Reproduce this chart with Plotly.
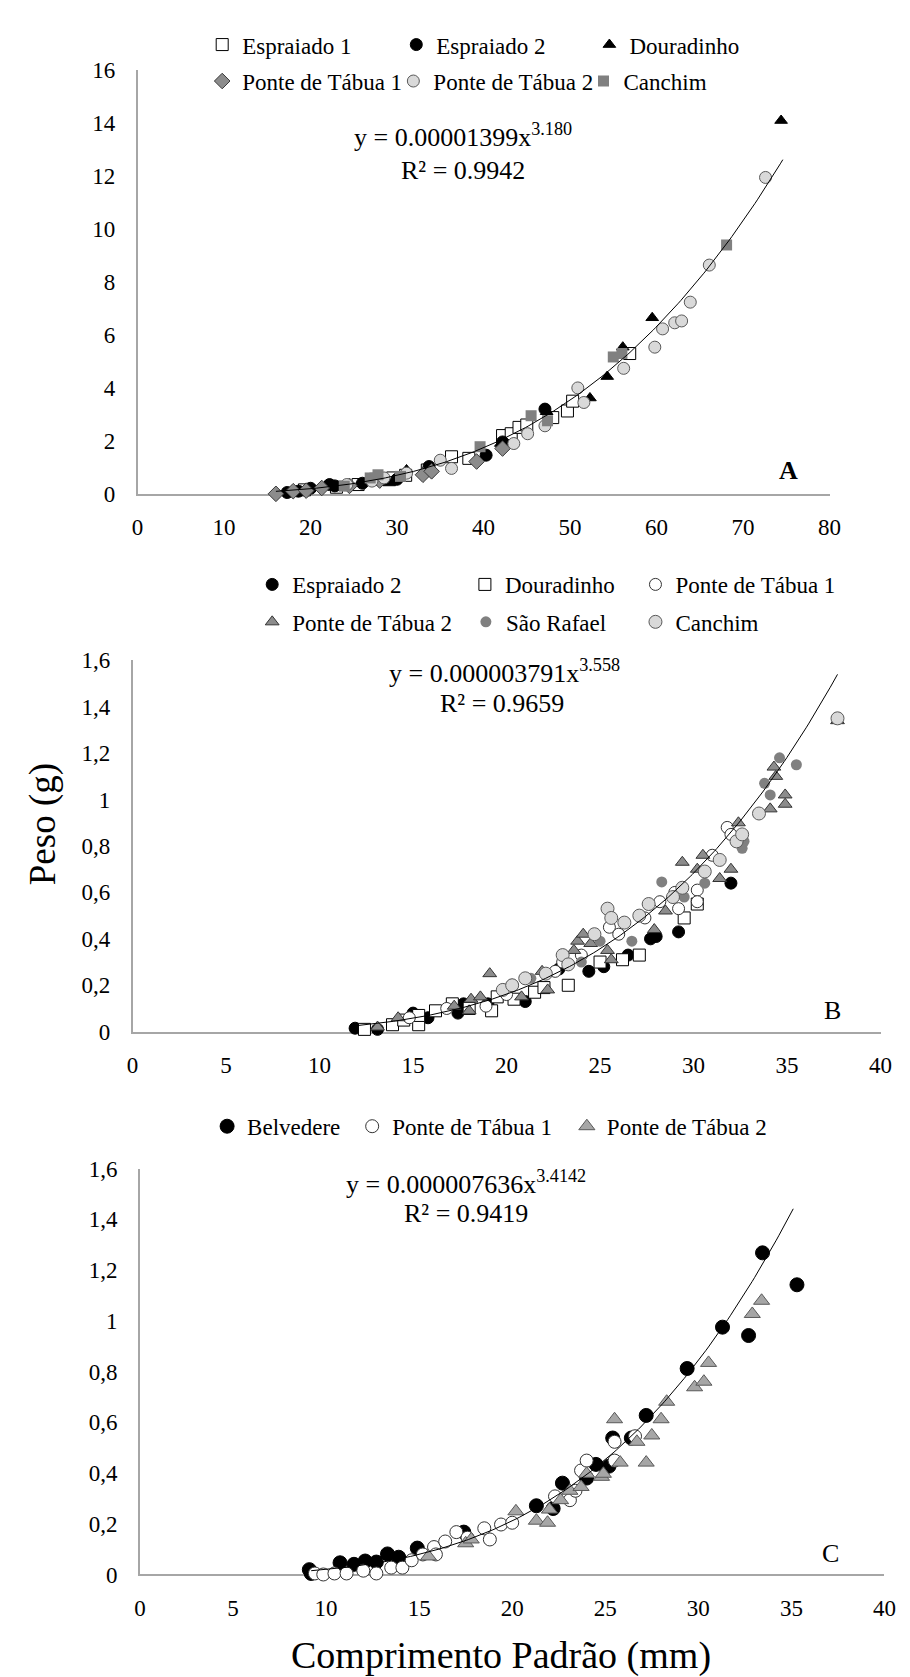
import numpy as np
import plotly.graph_objects as go

FONT = "Liberation Serif"
W, H = 910, 1677

# ---------------- Panel A data (Comprimento x Peso) ----------------
A_esp1_x = [19.3, 23.0, 25.5, 27.5, 29.5, 31.0, 33.5, 36.3, 38.3, 42.2, 43.2, 44.1, 45.0, 48.0, 49.7, 50.3, 56.9]
A_esp1_y = [0.15, 0.25, 0.35, 0.55, 0.60, 0.70, 0.90, 1.40, 1.34, 2.20, 2.27, 2.51, 2.60, 2.88, 3.13, 3.50, 5.30]
A_esp2_x = [17.3, 18.6, 20.0, 22.2, 22.8, 26.0, 30.0, 33.7, 40.3, 42.2, 47.1]
A_esp2_y = [0.05, 0.10, 0.21, 0.35, 0.30, 0.40, 0.55, 1.03, 1.46, 1.96, 3.20]
A_dour_x = [21.9, 29.1, 31.1, 42.0, 47.3, 52.3, 54.3, 56.1, 59.5, 74.4]
A_dour_y = [0.30, 0.41, 0.90, 1.90, 3.10, 3.62, 4.43, 5.54, 6.65, 14.1]
A_pt1_x = [16.0, 18.0, 19.5, 21.3, 24.5, 28.0, 33.0, 34.0, 39.2, 42.2]
A_pt1_y = [0.00, 0.10, 0.12, 0.22, 0.30, 0.50, 0.72, 0.85, 1.22, 1.71]
A_pt2_x = [24.2, 27.1, 28.5, 31.1, 35.0, 36.3, 43.5, 45.1, 47.1, 50.9, 51.6, 56.2, 59.8, 60.7, 62.1, 62.9, 63.9, 66.1, 72.6]
A_pt2_y = [0.35, 0.48, 0.60, 0.78, 1.27, 0.96, 1.90, 2.27, 2.57, 4.00, 3.45, 4.74, 5.54, 6.23, 6.46, 6.53, 7.24, 8.64, 11.95]
A_can_x = [23.9, 26.9, 27.8, 30.4, 39.6, 45.5, 47.4, 55.0, 56.0, 68.1]
A_can_y = [0.29, 0.60, 0.72, 0.66, 1.78, 2.95, 2.76, 5.17, 5.30, 9.40]

# ---------------- Panel B data ----------------
B_esp2_x = [11.9, 13.1, 15.0, 15.8, 17.4, 17.7, 19.0, 20.3, 21.0, 22.8, 24.4, 25.2, 26.5, 27.7, 28.0, 29.2, 32.0]
B_esp2_y = [0.015, 0.01, 0.08, 0.06, 0.08, 0.12, 0.12, 0.20, 0.13, 0.27, 0.26, 0.28, 0.33, 0.40, 0.41, 0.43, 0.64]
B_dour_x = [12.4, 13.9, 14.5, 15.3, 15.3, 16.2, 17.1, 18.0, 19.2, 19.5, 20.4, 21.5, 22.0, 23.3, 25.0, 26.2, 27.1, 29.5, 30.2]
B_dour_y = [0.01, 0.03, 0.05, 0.03, 0.07, 0.09, 0.12, 0.10, 0.09, 0.15, 0.14, 0.17, 0.19, 0.20, 0.30, 0.31, 0.33, 0.49, 0.55]
B_pt1_x = [14.8, 16.8, 18.9, 20.0, 22.6, 23.0, 24.0, 25.5, 26.0, 27.4, 28.2, 29.0, 29.2, 30.2, 30.2, 31.0, 31.8, 32.0]
B_pt1_y = [0.06, 0.10, 0.11, 0.16, 0.26, 0.30, 0.33, 0.45, 0.42, 0.49, 0.56, 0.60, 0.53, 0.61, 0.56, 0.76, 0.88, 0.85]
B_pt2_x = [13.1, 14.2, 17.2, 18.0, 18.1, 18.6, 19.1, 20.8, 21.9, 22.2, 23.6, 23.8, 24.1, 24.5, 25.4, 25.6, 27.9, 28.5,
           29.4, 30.2, 30.5, 31.4, 32.0, 32.4, 34.1, 34.3, 34.4, 34.9, 34.9, 37.7]
B_pt2_y = [0.02, 0.06, 0.11, 0.09, 0.14, 0.15, 0.25, 0.15, 0.26, 0.18, 0.35, 0.39, 0.42, 0.38, 0.35, 0.31, 0.44, 0.52,
           0.73, 0.70, 0.76, 0.66, 0.70, 0.90, 0.96, 1.14, 1.10, 1.02, 0.98, 1.34]
B_sr_x = [21.3, 24.0, 25.0, 26.7, 28.3, 29.5, 30.6, 32.6, 32.7, 33.8, 34.1, 34.6, 35.5]
B_sr_y = [0.23, 0.30, 0.39, 0.39, 0.645, 0.58, 0.64, 0.79, 0.82, 1.07, 1.02, 1.18, 1.15]
B_can_x = [19.8, 20.3, 21.0, 22.1, 23.0, 23.3, 24.7, 25.4, 25.6, 26.3, 27.1, 27.6, 28.9, 29.4, 30.6, 31.4, 32.3, 32.6, 33.5, 37.7]
B_can_y = [0.18, 0.20, 0.23, 0.25, 0.33, 0.29, 0.42, 0.53, 0.49, 0.47, 0.50, 0.55, 0.58, 0.62, 0.69, 0.74, 0.82, 0.85, 0.94, 1.35]

# ---------------- Panel C data ----------------
C_bel_x = [9.1, 9.2, 10.75, 11.5, 12.1, 12.7, 13.3, 13.9, 14.9, 17.4, 21.3, 22.2, 22.7, 24.0, 24.5, 25.2, 25.4, 26.4,
           27.2, 29.4, 31.3, 32.7, 33.45, 35.3]
C_bel_y = [0.019, 0.004, 0.046, 0.04, 0.053, 0.049, 0.081, 0.068, 0.104, 0.167, 0.271, 0.26, 0.36, 0.38, 0.434, 0.427,
           0.538, 0.538, 0.627, 0.812, 0.975, 0.942, 1.268, 1.142]
C_pt1_x = [9.4, 9.85, 10.45, 11.1, 12.0, 12.7, 13.5, 14.1, 14.6, 15.2, 15.8, 15.9, 16.4, 17.0, 17.6, 18.5, 18.8, 19.4,
           20.0, 22.3, 23.1, 23.4, 23.7, 24.0, 25.5, 25.5, 26.6]
C_pt1_y = [0.004, 0.0, 0.004, 0.004, 0.015, 0.004, 0.027, 0.027, 0.056, 0.079, 0.108, 0.079, 0.13, 0.167, 0.145, 0.182,
           0.138, 0.197, 0.204, 0.308, 0.293, 0.33, 0.41, 0.449, 0.523, 0.449, 0.545]
C_pt2_x = [15.5, 17.5, 17.8, 20.2, 21.3, 21.9, 22.0, 22.6, 23.1, 23.7, 24.0, 24.8, 24.9, 25.5, 25.8, 26.7, 27.2, 27.5,
           28.0, 28.3, 29.8, 30.3, 30.55, 32.9, 33.4]
C_pt2_y = [0.071, 0.123, 0.138, 0.249, 0.212, 0.204, 0.256, 0.293, 0.33, 0.345, 0.397, 0.385, 0.397, 0.612, 0.441,
           0.523, 0.441, 0.548, 0.612, 0.681, 0.738, 0.76, 0.834, 1.027, 1.079]

# Power trendlines as printed on the chart (y = a x^b) and their x spans
A_fit = (0.00001399, 3.180, 16.0, 74.6)
B_fit = (0.000003791, 3.558, 12.0, 37.7)
C_fit = (0.000007636, 3.4142, 9.2, 35.1)

A_xticks = [0, 10, 20, 30, 40, 50, 60, 70, 80]
A_yticks = [0, 2, 4, 6, 8, 10, 12, 14, 16]
BC_xticks = [0, 5, 10, 15, 20, 25, 30, 35, 40]
BC_yticks = [0, 0.2, 0.4, 0.6, 0.8, 1.0, 1.2, 1.4, 1.6]
BC_ytext = ["0", "0,2", "0,4", "0,6", "0,8", "1", "1,2", "1,4", "1,6"]

fig = go.Figure()

legend_layouts = {}
leg_counter = [0]


def add_series(x, y, name, ax, ay, sym, size, color, lcolor, lwidth, text_x, row_y):
    leg_counter[0] += 1
    k = leg_counter[0]
    lname = "legend" if k == 1 else f"legend{k}"
    fig.add_trace(go.Scatter(
        x=x, y=y, mode="markers", name=name, xaxis=ax, yaxis=ay, legend=lname,
        cliponaxis=False,
        marker=dict(symbol=sym, size=size, color=color, line=dict(color=lcolor, width=lwidth)),
    ))
    legend_layouts[lname] = dict(
        x=(text_x - 40) / W, y=1 - row_y / H, xanchor="left", yanchor="middle",
        orientation="h", bgcolor="rgba(0,0,0,0)", borderwidth=0, itemwidth=30,
        font=dict(family=FONT, size=23, color="black"),
    )


def add_fit(fit, ax, ay):
    a, b, x0, x1 = fit
    xs = np.linspace(x0, x1, 200)
    fig.add_trace(go.Scatter(x=xs, y=a * xs ** b, mode="lines", xaxis=ax, yaxis=ay,
                             line=dict(color="black", width=1), showlegend=False, hoverinfo="skip"))


# Panel A
add_series(A_esp1_x, A_esp1_y, "Espraiado 1", "x", "y", "square", 12, "white", "black", 1, 232, 25)
add_series(A_esp2_x, A_esp2_y, "Espraiado 2", "x", "y", "circle", 12, "black", "black", 1, 430, 25)
add_series(A_dour_x, A_dour_y, "Douradinho", "x", "y", "triangle-up", 11, "black", "black", 1, 627, 25)
add_series(A_pt1_x, A_pt1_y, "Ponte de Tábua 1", "x", "y", "diamond", 12, "#8c8c8c", "#3a3a3a", 1, 232, 62)
add_series(A_pt2_x, A_pt2_y, "Ponte de Tábua 2", "x", "y", "circle", 12, "#d9d9d9", "#595959", 1, 427, 62)
add_series(A_can_x, A_can_y, "Canchim", "x", "y", "square", 11, "#808080", "#808080", 0, 621, 62)
add_fit(A_fit, "x", "y")

# Panel B
add_series(B_esp2_x, B_esp2_y, "Espraiado 2", "x2", "y2", "circle", 12, "black", "black", 1, 283, 573)
add_series(B_dour_x, B_dour_y, "Douradinho", "x2", "y2", "square", 12, "white", "black", 1, 500, 573)
add_series(B_pt1_x, B_pt1_y, "Ponte de Tábua 1", "x2", "y2", "circle", 12, "white", "#333333", 1, 674, 573)
add_series(B_pt2_x, B_pt2_y, "Ponte de Tábua 2", "x2", "y2", "triangle-up", 12, "#8c8c8c", "#333333", 1, 283, 611)
add_series(B_sr_x, B_sr_y, "São Rafael", "x2", "y2", "circle", 11, "#808080", "#808080", 0, 501, 611)
add_series(B_can_x, B_can_y, "Canchim", "x2", "y2", "circle", 13, "#d9d9d9", "#595959", 1, 674, 611)
add_fit(B_fit, "x2", "y2")

# Panel C
add_series(C_bel_x, C_bel_y, "Belvedere", "x3", "y3", "circle", 14, "black", "black", 1, 237, 1123)
add_series(C_pt1_x, C_pt1_y, "Ponte de Tábua 1", "x3", "y3", "circle", 13, "white", "#333333", 1, 385, 1123)
add_series(C_pt2_x, C_pt2_y, "Ponte de Tábua 2", "x3", "y3", "triangle-up", 14, "#a6a6a6", "#595959", 1, 604, 1123)
add_fit(C_fit, "x3", "y3")


def xax(dom, rng, ticks, anchor):
    return dict(domain=[dom[0] / W, dom[1] / W], range=rng, tickvals=ticks, ticktext=[str(t) for t in ticks],
                showline=True, linecolor="#a6a6a6", linewidth=1.5, showgrid=False, zeroline=False,
                ticks="", anchor=anchor, layer="below traces", ticklabelstandoff=12,
                tickfont=dict(family=FONT, size=23, color="black"), fixedrange=True)


def yax(dom, rng, ticks, text, anchor):
    return dict(domain=[1 - dom[0] / H, 1 - dom[1] / H], range=rng, tickvals=ticks, ticktext=text,
                showline=True, linecolor="#a6a6a6", linewidth=1.5, showgrid=False, zeroline=False,
                ticks="", anchor=anchor, layer="below traces", ticklabelstandoff=16,
                tickfont=dict(family=FONT, size=23, color="black"), fixedrange=True)


def ann(text, x, y, size=26, bold=False, **kw):
    t = f"<b>{text}</b>" if bold else text
    d = dict(text=t, x=x / W, y=1 - y / H, xref="paper", yref="paper", showarrow=False,
             xanchor="center", yanchor="middle", font=dict(family=FONT, size=size, color="black"))
    d.update(kw)
    return d


annotations = [
    ann("y = 0.00001399x<sup>3.180</sup>", 458, 117),
    ann("R² = 0.9942", 458, 153),
    ann("A", 790, 457, bold=True),
    ann("y = 0.000003791x<sup>3.558</sup>", 500, 661),
    ann("R² = 0.9659", 498, 694),
    ann("B", 835, 1005),
    ann("y = 0.000007636x<sup>3.4142</sup>", 461, 1180),
    ann("R² = 0.9419", 461, 1212),
    ann("C", 833, 1557),
    ann("Peso (g)", 29, 816, size=37, textangle=-90),
    ann("Comprimento Padrão (mm)", 497, 1660, size=38),
]

fig.update_layout(
    width=W, height=H, margin=dict(l=0, r=0, t=0, b=0),
    paper_bgcolor="white", plot_bgcolor="white",
    font=dict(family=FONT, color="black"),
    showlegend=True,
    xaxis=xax((126, 832), [0, 80], A_xticks, "y"),
    yaxis=yax((481, 51), [0, 16], A_yticks, [str(t) for t in A_yticks], "x"),
    xaxis2=xax((121, 884), [0, 40], BC_xticks, "y2"),
    yaxis2=yax((1027, 650), [0, 1.6], BC_yticks, BC_ytext, "x2"),
    xaxis3=xax((128.5, 888), [0, 40], BC_xticks, "y3"),
    yaxis3=yax((1578, 1166), [0, 1.6], BC_yticks, BC_ytext, "x3"),
    annotations=annotations,
    **legend_layouts,
)

fig.write_html("out.html")
